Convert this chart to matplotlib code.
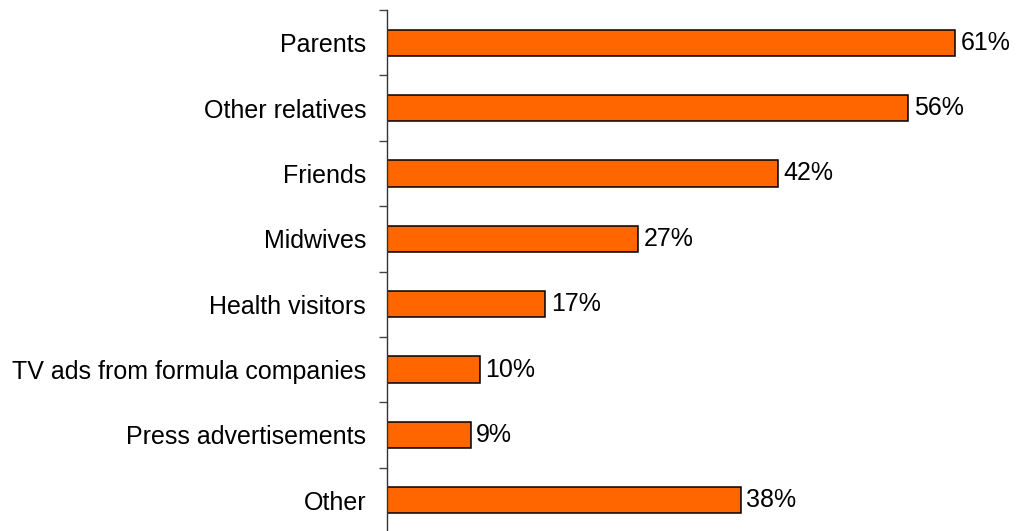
import matplotlib
matplotlib.use("Agg")
import matplotlib.pyplot as plt
from matplotlib.ticker import FixedLocator, NullLocator

# sources of advice on infant feeding, share of respondents
sources = ["Parents", "Other relatives", "Friends", "Midwives", "Health visitors",
           "TV ads from formula companies", "Press advertisements", "Other"]
shares = [61, 56, 42, 27, 17, 10, 9, 38]

plt.rcParams['font.family'] = ['Liberation Sans', 'DejaVu Sans']

fig = plt.figure(figsize=(10.18, 5.31), dpi=100)
ax = fig.add_axes([387 / 1018, -2 / 531, 1 - 387 / 1018, 523 / 531])

pos = list(range(len(sources)))
bars = ax.barh(pos, shares, height=0.4, color="#FF6600", edgecolor="black", linewidth=1.1)

for y, v in zip(pos, shares):
    ax.annotate(f"{v}%", (v, y), xytext=(4, 0), textcoords="offset points",
                va="center", ha="left", fontsize=18)

ax.set_xlim(0, 67.8)
ax.set_ylim(len(sources) - 0.5, -0.5)

ax.set_yticks(pos)
ax.set_yticklabels(sources, fontsize=18)
ax.tick_params(axis="y", which="major", length=0, pad=15)
ax.yaxis.set_minor_locator(FixedLocator([i - 0.5 for i in range(len(sources) + 1)]))
ax.tick_params(axis="y", which="minor", length=6, width=1, color="#444444")
ax.xaxis.set_major_locator(NullLocator())

for side in ["top", "right", "bottom"]:
    ax.spines[side].set_visible(False)
ax.spines["left"].set_color("#333333")
ax.spines["left"].set_linewidth(1)

fig.savefig("out.png", dpi=100)
